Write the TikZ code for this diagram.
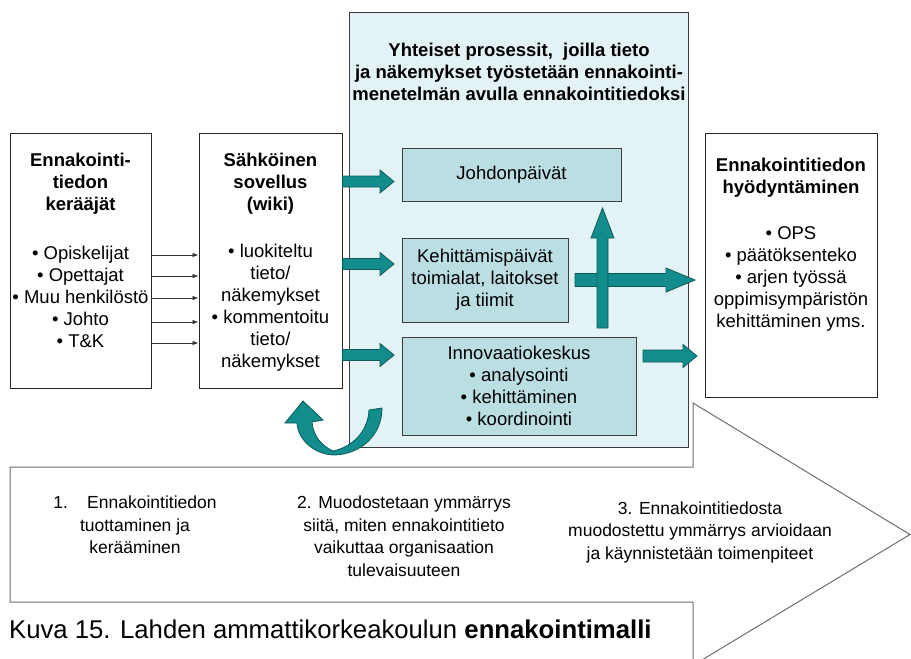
\documentclass[tikz,border=0pt]{standalone}
\usepackage{fontspec}
\setmainfont{Liberation Sans}
\usetikzlibrary{calc,arrows.meta}
\definecolor{bigfill}{RGB}{227,242,244}
\definecolor{infill}{RGB}{186,222,226}
\definecolor{tealf}{RGB}{18,140,140}
\definecolor{teald}{RGB}{12,92,92}
\definecolor{edgegray}{RGB}{60,60,60}
\definecolor{chevgray}{RGB}{110,110,110}
\newcommand\harrow[5]{%
  \filldraw[tealarrow] let \p1=(#1), \p2=(#2) in
    (\x1,\y1+#3) -- (\x2-#5,\y1+#3) -- (\x2-#5,\y1+#4) -- (\x2,\y1)
    -- (\x2-#5,\y1-#4) -- (\x2-#5,\y1-#3) -- (\x1,\y1-#3) -- cycle;}
\newcommand\varrow[5]{%
  \filldraw[tealarrow] let \p1=(#1), \p2=(#2) in
    (\x1-#3,\y1) -- (\x1-#3,\y2-#5) -- (\x1-#4,\y2-#5) -- (\x2,\y2)
    -- (\x1+#4,\y2-#5) -- (\x1+#3,\y2-#5) -- (\x1+#3,\y1) -- cycle;}
\begin{document}
\begin{tikzpicture}[x=1pt,y=-1pt,
  whitebox/.style={draw=black!85, line width=0.9pt, fill=white, inner sep=0pt},
  bigbox/.style={draw=edgegray, line width=0.9pt, fill=bigfill, inner sep=0pt},
  inbox/.style={draw=edgegray, line width=0.9pt, fill=infill, inner sep=0pt, align=center,
     font=\fontsize{18.5}{22}\selectfont},
  titletext/.style={align=center, inner sep=0pt, font=\fontsize{18.5}{22}\selectfont\bfseries},
  bodytext/.style={align=center, inner sep=0pt, font=\fontsize{18.5}{22}\selectfont},
  chevtext/.style={align=center, inner sep=0pt, font=\fontsize{17.5}{22.5}\selectfont},
  thinarrow/.style={draw=black!80, line width=0.8pt, -{Latex[length=6pt,width=4.5pt]}},
  tealarrow/.style={fill=tealf, draw=teald, line width=0.8pt}
]
\useasboundingbox (0,0) rectangle (911,659);

% big chevron arrow (drawn first)
\filldraw[fill=white, draw=chevgray, line width=1pt]
  (693,659) -- (693,602) -- (10,602) -- (10,467) -- (693,467) -- (693,403)
  -- (910,534.5) -- (703.5,659);

% boxes
\node[whitebox, minimum width=141, minimum height=255] (src) at (80.5,260.5) {};
\node[whitebox, minimum width=143, minimum height=255] (wiki) at (270.5,260.5) {};
\node[bigbox, minimum width=339, minimum height=435] (proc) at (518.5,229.5) {};
\node[whitebox, minimum width=172, minimum height=264] (use) at (791,265) {};

% texts of outer boxes
\node[titletext] (srct) at (80.5,184) {Ennakointi-\\tiedon\\kerääjät};
\node[bodytext] (srcb) at (80.5,297) {• Opiskelijat\\• Opettajat\\• Muu henkilöstö\\• Johto\\• T\&K};
\node[titletext] (wikit) at (270.5,184) {Sähköinen\\sovellus\\(wiki)};
\node[bodytext] (wikib) at (270.5,308) {• luokiteltu\\tieto/\\näkemykset\\• kommentoitu\\tieto/\\näkemykset};
\node[titletext] (uset) at (791,178) {Ennakointitiedon\\hyödyntäminen};
\node[bodytext] (useb) at (791,279) {• OPS\\• päätöksenteko\\• arjen työssä\\oppimisympäristön\\kehittäminen yms.};
\node[titletext] (proct) at (519,72) {Yhteiset prosessit,\ \ joilla tieto\\ja näkemykset työstetään ennakointi-\\menetelmän avulla ennakointitiedoksi};

% inner boxes
\node[inbox, minimum width=219, minimum height=53] (johdo) at (511.5,174.5) {Johdonpäivät};
\node[inbox, minimum width=166, minimum height=84] (keh) at (485,280) {Kehittämispäivät\\toimialat, laitokset\\ja tiimit};
\node[inbox, minimum width=234, minimum height=98] (inno) at (519,386) {Innovaatiokeskus\\• analysointi\\• kehittäminen\\• koordinointi};

% thin arrows
\foreach \yy in {255,276,298,322,343}
  \draw[thinarrow] (src.east |- 0,\yy) -- (wiki.west |- 0,\yy);

% teal block arrows
\coordinate (a1s) at (wiki.east |- 0,181.5);
\coordinate (a1t) at (394,181.5);
\coordinate (a2s) at (wiki.east |- 0,264);
\coordinate (a2t) at (394,264);
\coordinate (a3s) at (wiki.east |- 0,355);
\coordinate (a3t) at (394,355);
\coordinate (a4s) at (575,280);
\coordinate (a4t) at (695,280);
\coordinate (a5s) at (643,356);
\coordinate (a5t) at (697,356);
\coordinate (vs) at (602.5,328);
\coordinate (vt) at (602.5,208);
\harrow{a1s}{a1t}{5.5pt}{11.5pt}{14pt}
\harrow{a2s}{a2t}{5.5pt}{11.5pt}{14pt}
\harrow{a3s}{a3t}{5.5pt}{11.5pt}{14pt}
\harrow{a4s}{a4t}{6.5pt}{12pt}{29pt}
\harrow{a5s}{a5t}{6pt}{11.5pt}{14pt}
\varrow{vs}{vt}{5.5pt}{11.5pt}{30pt}

% U-turn arrow
\filldraw[tealarrow]
  (369,410) .. controls (368,432) and (352,447) .. (333,451)
  .. controls (322,446) and (313,436) .. (312,422)
  -- (323,420) -- (303,401) -- (285,423) -- (297,423)
  .. controls (298,441) and (316,455) .. (335,455)
  .. controls (360,454) and (382,436) .. (382,408) -- cycle;

% chevron texts
\node[chevtext] (c1) at (135,525) {1.\hspace{1.1em}Ennakointitiedon\\tuottaminen ja\\kerääminen};
\node[chevtext] (c2) at (404,536) {2. Muodostetaan ymmärrys\\siitä, miten ennakointitieto\\vaikuttaa organisaation\\tulevaisuuteen};
\node[chevtext] (c3) at (700,532) {3. Ennakointitiedosta\\muodostettu ymmärrys arvioidaan\\ja käynnistetään toimenpiteet};

% caption
\node[anchor=west, inner sep=0pt, font=\fontsize{25.7}{30}\selectfont] (cap) at (9,629)
  {Kuva 15. Lahden ammattikorkeakoulun \textbf{ennakointimalli}};
\end{tikzpicture}
\end{document}
